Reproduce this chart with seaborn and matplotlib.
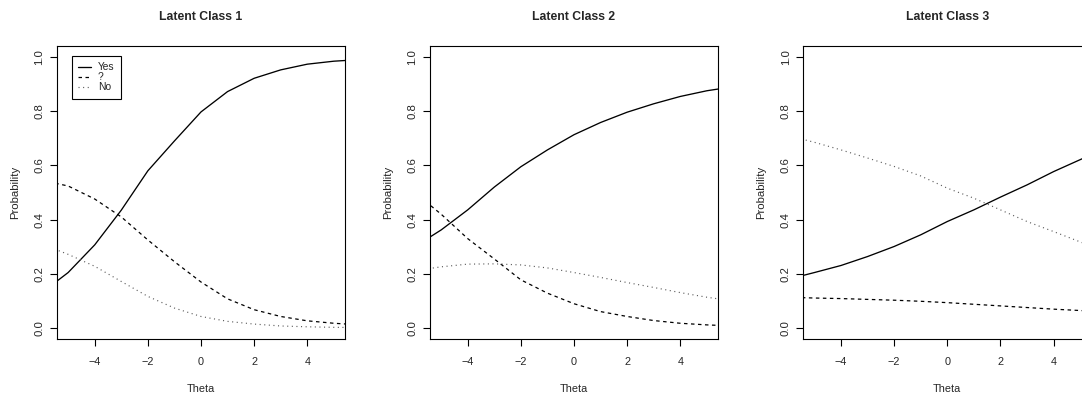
import matplotlib
matplotlib.use("Agg")
import matplotlib.pyplot as plt
from matplotlib import font_manager
import seaborn as sns

# response curves at integer theta values
theta = [-6, -5, -4, -3, -2, -1, 0, 1, 2, 3, 4, 5, 6]

yes_1 = [0.13, 0.205, 0.307, 0.435, 0.58, 0.69, 0.797, 0.872, 0.921, 0.952, 0.973, 0.984, 0.99]
maybe_1 = [0.545, 0.524, 0.476, 0.41, 0.325, 0.245, 0.17, 0.108, 0.068, 0.043, 0.027, 0.018, 0.012]
no_1 = [0.31, 0.272, 0.228, 0.172, 0.117, 0.074, 0.043, 0.025, 0.015, 0.008, 0.005, 0.003, 0.002]

yes_2 = [0.30, 0.362, 0.436, 0.52, 0.595, 0.657, 0.713, 0.758, 0.796, 0.827, 0.854, 0.875, 0.89]
maybe_2 = [0.50, 0.42, 0.33, 0.255, 0.178, 0.129, 0.09, 0.061, 0.043, 0.028, 0.018, 0.012, 0.008]
no_2 = [0.212, 0.226, 0.236, 0.237, 0.233, 0.222, 0.205, 0.187, 0.168, 0.15, 0.131, 0.114, 0.10]

yes_3 = [0.18, 0.205, 0.231, 0.264, 0.301, 0.344, 0.393, 0.436, 0.483, 0.528, 0.577, 0.621, 0.665]
maybe_3 = [0.114, 0.111, 0.109, 0.106, 0.103, 0.099, 0.094, 0.088, 0.082, 0.076, 0.07, 0.065, 0.06]
no_3 = [0.71, 0.685, 0.657, 0.627, 0.596, 0.561, 0.516, 0.479, 0.436, 0.393, 0.356, 0.318, 0.28]

titles = ['Latent Class 1', 'Latent Class 2', 'Latent Class 3']
labels = ['Yes', '?', 'No']
xticks = [-4, -2, 0, 2, 4]
yticks = [0.0, 0.2, 0.4, 0.6, 0.8, 1.0]

panels = [(yes_1, maybe_1, no_1), (yes_2, maybe_2, no_2), (yes_3, maybe_3, no_3)]

sns.set_style("ticks")

names = {f.name for f in font_manager.fontManager.ttflist}
if 'Liberation Sans Narrow' in names:
    h_font, h_size, t_size, l_size = 'Liberation Sans Narrow', 8.2, 9.8, 8.2
else:
    h_font, h_size, t_size, l_size = 'Liberation Sans', 7.8, 8.8, 7.4
v_font = 'Liberation Sans'
plt.rcParams['font.family'] = [h_font, 'DejaVu Sans']
plt.rcParams['axes.linewidth'] = 0.8
plt.rcParams['axes.edgecolor'] = 'black'

styles = [dict(color='black', linestyle='-', linewidth=0.95),
          dict(color='black', linestyle=(0, (2.8, 2.8)), linewidth=0.9),
          dict(color='0.35', linestyle=(0, (0.9, 3)), linewidth=0.85)]

fig = plt.figure(figsize=(10.82, 3.96), dpi=100)
W, H = 1082, 396
lefts = [57, 430, 803.3]
for i, (left, series) in enumerate(zip(lefts, panels)):
    ax = fig.add_axes([left / W, (H - 339) / H, 288 / W, 293 / H])
    for j, vals in enumerate(series):
        kw = dict(styles[j])
        if i == 0:
            kw['label'] = labels[j]
        sns.lineplot(x=theta, y=vals, ax=ax, **kw)
    ax.set_xlim(-5.42, 5.42)
    ax.set_ylim(-0.04, 1.04)
    ax.set_xticks(xticks)
    ax.set_yticks(yticks)
    ax.set_yticklabels([f'{v:.1f}' for v in yticks])
    ax.tick_params(length=5, width=0.8, color='black')
    ax.tick_params(axis='x', pad=8.0, labelsize=h_size)
    ax.tick_params(axis='y', pad=4, labelsize=h_size)
    for t in ax.get_yticklabels():
        t.set_rotation(90)
        t.set_va('center')
        t.set_family(v_font)
        t.set_fontsize(8.2)
    ax.set_xlabel('Theta', fontsize=h_size)
    ax.xaxis.set_label_coords(0.5, -0.1706)
    ax.xaxis.label.set_va('center')
    ax.set_ylabel('Probability', fontsize=8.2, family=v_font)
    ax.yaxis.set_label_coords(-0.146, 0.5)
    ax.yaxis.label.set_va('center')
    ax.set_title(titles[i], fontsize=t_size, fontweight='bold', y=1.0973, va='center', pad=0)
    for s in ax.spines.values():
        s.set_visible(True)
        s.set_color('black')
        s.set_linewidth(0.8)
    if ax.get_legend() is not None:
        ax.get_legend().remove()
    if i == 0:
        leg = ax.legend(loc='upper left', bbox_to_anchor=(0.051, 0.966), fontsize=l_size,
                        frameon=True, fancybox=False, framealpha=1, edgecolor='black',
                        borderpad=0.62, labelspacing=0, handlelength=1.3,
                        handletextpad=0.64, borderaxespad=0)
        leg.get_frame().set_linewidth(0.8)

fig.savefig('out.png', dpi=100)
